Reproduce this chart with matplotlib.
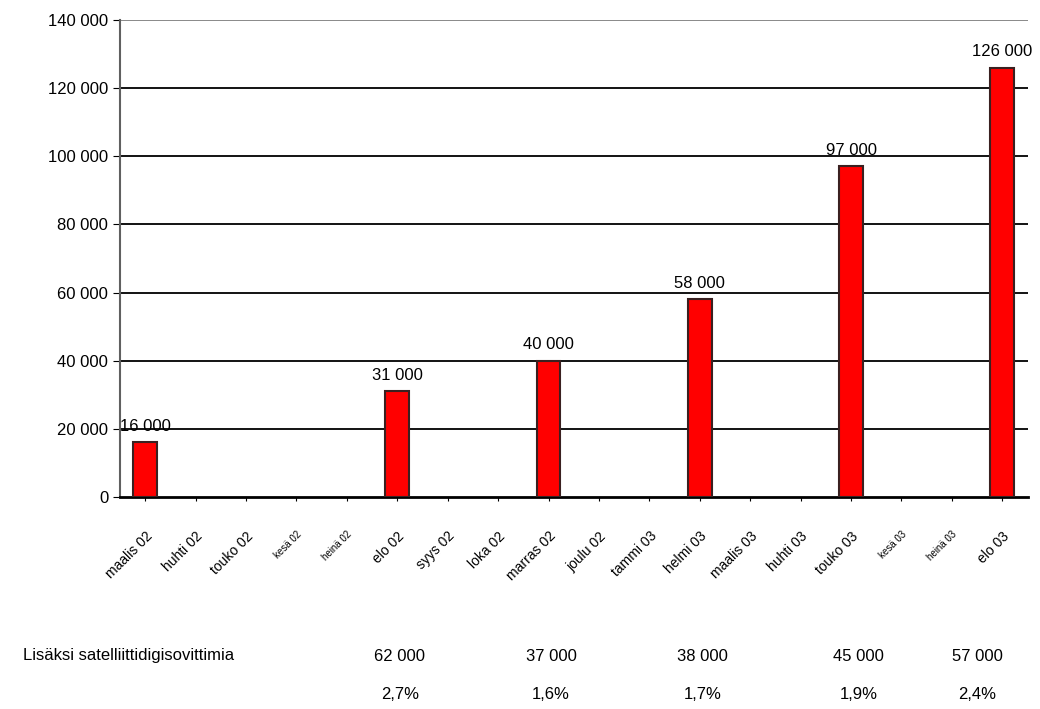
import numpy as np
import matplotlib.pyplot as plt

months = ["maalis 02", "huhti 02", "touko 02", "kesä 02", "heinä 02", "elo 02",
          "syys 02", "loka 02", "marras 02", "joulu 02", "tammi 03", "helmi 03",
          "maalis 03", "huhti 03", "touko 03", "kesä 03", "heinä 03", "elo 03"]
bar_idx = [0, 5, 8, 11, 14, 17]
bar_vals = [16000, 31000, 40000, 58000, 97000, 126000]

extra_label = "Lisäksi satelliittidigisovittimia"
extra_idx = [5.05, 8.05, 11.05, 14.15, 16.5]
extra_vals = ["62 000", "37 000", "38 000", "45 000", "57 000"]
extra_pct = ["2,7%", "1,6%", "1,7%", "1,9%", "2,4%"]

plt.rcParams['font.family'] = ['Liberation Sans', 'DejaVu Sans']

fig = plt.figure(figsize=(10.4, 7.09), dpi=100)
ax = fig.add_axes([0.1154, 0.299, 0.8726, 0.673])

x = np.arange(len(months))

ax.set_xlim(-0.5, len(months) - 0.5)
ax.set_ylim(0, 140000)
for y in range(20000, 140001, 20000):
    ax.axhline(y, color='black' if y < 140000 else '#808080', lw=1.3, zorder=0)

ax.bar([x[i] for i in bar_idx], bar_vals, width=0.47, color='#ff0000',
       edgecolor='#3a2020', linewidth=1.5, zorder=3)
for i, v in zip(bar_idx, bar_vals):
    ax.text(x[i], v + 2500, f"{v:,}".replace(",", " "), ha='center', va='bottom',
            fontsize=12, zorder=4)

ax.set_yticks(range(0, 140001, 20000))
ax.set_yticklabels([f"{v:,}".replace(",", " ") for v in range(0, 140001, 20000)],
                   fontsize=12)
ax.set_xticks(x)
ax.set_xticklabels(months, rotation=45, ha='right', rotation_mode='anchor', fontsize=10)
for lbl in ax.get_xticklabels():
    if lbl.get_text().startswith(("kesä", "heinä")):
        lbl.set_fontsize(7)
ax.tick_params(axis='x', length=3, pad=20)
ax.tick_params(axis='y', length=5)

ax.spines['top'].set_visible(False)
ax.spines['right'].set_visible(False)
ax.spines['left'].set_color('#606060')
ax.spines['left'].set_linewidth(1.5)
ax.spines['bottom'].set_linewidth(2)

fig.text(0.022, 0.075, extra_label, fontsize=12, va='center')
trans = ax.get_xaxis_transform()
for i, v, p in zip(extra_idx, extra_vals, extra_pct):
    ax.text(i, -0.335, v, transform=trans, ha='center', va='center', fontsize=12)
    ax.text(i, -0.413, p, transform=trans, ha='center', va='center', fontsize=12)

fig.savefig("out.png", dpi=100)
